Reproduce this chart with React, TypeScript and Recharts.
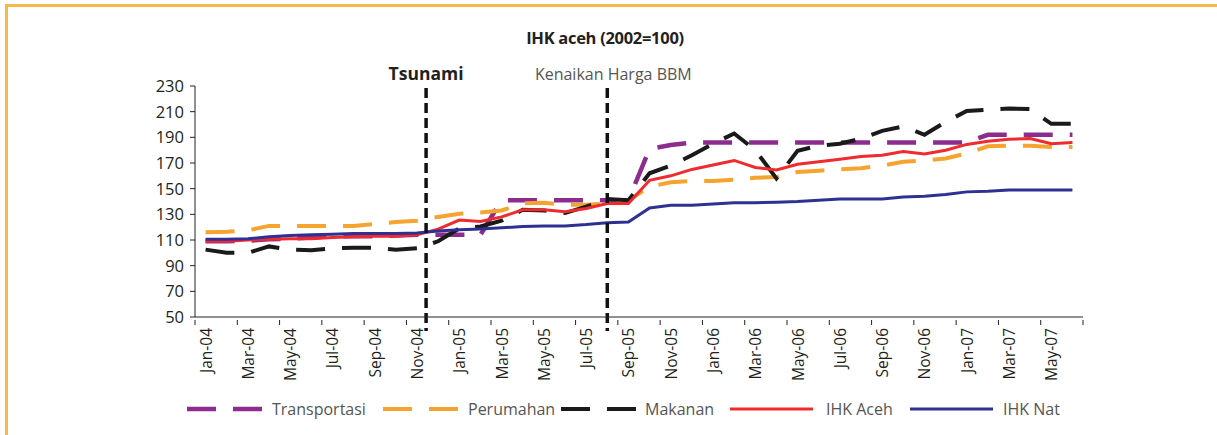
import { LineChart, Line, XAxis, YAxis, ReferenceLine, Legend } from 'recharts'

const months = [
  'Jan-04', 'Feb-04', 'Mar-04', 'Apr-04', 'May-04', 'Jun-04', 'Jul-04', 'Aug-04', 'Sep-04', 'Oct-04', 'Nov-04', 'Dec-04',
  'Jan-05', 'Feb-05', 'Mar-05', 'Apr-05', 'May-05', 'Jun-05', 'Jul-05', 'Aug-05', 'Sep-05', 'Oct-05', 'Nov-05', 'Dec-05',
  'Jan-06', 'Feb-06', 'Mar-06', 'Apr-06', 'May-06', 'Jun-06', 'Jul-06', 'Aug-06', 'Sep-06', 'Oct-06', 'Nov-06', 'Dec-06',
  'Jan-07', 'Feb-07', 'Mar-07', 'Apr-07', 'May-07', 'Jun-07',
]

const transportasi = [
  109, 109, 109.5, 110.5, 111, 112, 113, 113, 113, 113.5, 114, 114,
  114, 114, 141, 141, 141, 141, 141, 141, 141, 181, 184, 186,
  186, 186, 186, 186, 186, 186, 186, 186, 186, 186, 186, 186,
  186, 192, 192, 192, 192, 192,
]
const perumahan = [
  116, 116.5, 117.5, 121, 121, 121, 121, 121, 122.5, 124, 125, 128,
  130.5, 131.5, 133, 138.5, 139, 137.5, 137.5, 138.5, 141, 151.5, 155, 156,
  156, 157, 158.5, 159, 163, 164, 165, 166, 168, 171, 172, 173.5,
  177.5, 183, 183.5, 183.5, 182.5, 182.5,
]
const makanan = [
  102.5, 100, 100, 105, 102.5, 102, 103.5, 104, 104, 102.5, 103.5, 109,
  119, 120.5, 125, 133.5, 133, 131, 136, 142, 141, 162, 168, 176,
  185, 193, 180, 158, 179.5, 183.5, 185, 189, 195, 198.5, 192, 202,
  210.5, 211.5, 212.5, 212, 200.5, 200.5,
]
const ihkAceh = [
  109, 109, 110, 110.5, 111, 111, 112, 112.5, 113, 113, 114, 118.5,
  125.5, 124.5, 128, 133.5, 133.5, 132, 134.5, 138.5, 138.5, 156.5, 160, 165,
  168.5, 172, 166.5, 164.5, 169, 171, 173, 175, 176, 179, 177, 180,
  184.5, 187, 188.5, 189, 185, 186,
]
const ihkNat = [
  110.5, 110.5, 111, 112.5, 113.5, 114, 114.5, 115, 115, 115, 115.5, 117,
  118, 118.5, 119.5, 120.5, 121, 121, 122, 123.5, 124, 135, 137, 137,
  138, 139, 139, 139.5, 140, 141, 142, 142, 142, 143.5, 144, 145.5,
  147.5, 148, 149, 149, 149, 149,
]

const yTicks = [50, 70, 90, 110, 130, 150, 170, 190, 210, 230]
// tick marks sit between months, one every two months
const xBoundaries = Array.from({ length: 22 }, (_, k) => k * 2 - 0.5)

const series = [
  { key: 'transportasi', name: 'Transportasi', color: '#8B2C8E', width: 4.5, dash: '29 17' },
  { key: 'perumahan', name: 'Perumahan', color: '#F4A42F', width: 4, dash: '29 17' },
  { key: 'makanan', name: 'Makanan', color: '#1A1A1A', width: 4, dash: '29 17' },
  { key: 'ihkAceh', name: 'IHK Aceh', color: '#EE2B2E', width: 3, dash: undefined },
  { key: 'ihkNat', name: 'IHK Nat', color: '#2E3192', width: 3, dash: undefined },
]

const data = months.map((m, i) => ({
  idx: i,
  month: m,
  transportasi: transportasi[i],
  perumahan: perumahan[i],
  makanan: makanan[i],
  ihkAceh: ihkAceh[i],
  ihkNat: ihkNat[i],
}))

const W = 1217
const H = 435
const MARGIN = { top: 86, right: 134, left: 135, bottom: 10 }
const Y_AXIS_W = 60
const PLOT_W = W - MARGIN.left - MARGIN.right - Y_AXIS_W
const STEP = PLOT_W / months.length
const FONT = '"Open Sans", "Noto Sans", sans-serif'

function MonthTick(props: any) {
  const { x, y, payload } = props
  const labelIdx = payload.value + 0.5
  const label = months[labelIdx]
  return (
    <g>
      <line x1={x} x2={x} y1={y - 5} y2={y} stroke="#222" strokeWidth={1} />
      {label && (
        <text
          transform={`translate(${x + STEP / 2},${y + 3}) rotate(-90)`}
          textAnchor="end"
          dominantBaseline="central"
          fontSize={15.5}
          fontFamily={FONT}
          fill="#231F20"
        >
          {label}
        </text>
      )}
    </g>
  )
}

const legendSlots = [
  { lineX: 187, lineW: 75, textX: 272 },
  { lineX: 383, lineW: 75, textX: 468 },
  { lineX: 561, lineW: 75, textX: 645 },
  { lineX: 730, lineW: 83, textX: 826 },
  { lineX: 910, lineW: 83, textX: 1003 },
]

function LegendBox() {
  return (
    <div style={{ position: 'relative', width: W, height: 20 }}>
      {series.map((s, i) => {
        const slot = legendSlots[i]
        return (
          <div key={s.key}>
            <svg
              width={slot.lineW}
              height={20}
              style={{ position: 'absolute', left: slot.lineX, top: 0 }}
            >
              <line
                x1={0}
                x2={slot.lineW}
                y1={10}
                y2={10}
                stroke={s.color}
                strokeWidth={s.width}
                strokeDasharray={s.dash}
              />
            </svg>
            <span
              style={{
                position: 'absolute',
                left: slot.textX,
                top: 0,
                lineHeight: '20px',
                fontSize: 16,
                fontFamily: FONT,
                color: '#555',
                whiteSpace: 'nowrap',
              }}
            >
              {s.name}
            </span>
          </div>
        )
      })}
    </div>
  )
}

export default function App() {
  return (
    <div style={{ position: 'absolute', left: 0, top: 0, width: W, height: H, background: '#fff' }}>
      <div style={{ position: 'absolute', left: 5, top: 4, width: W - 5, height: 3, background: '#F5B84A' }} />
      <div style={{ position: 'absolute', left: 5, top: 4, width: 3, height: H - 4, background: '#F5B84A' }} />
      <div
        style={{
          position: 'absolute',
          left: 405,
          top: 26,
          width: 400,
          textAlign: 'center',
          fontFamily: FONT,
          fontWeight: 700,
          fontSize: 16.5,
          letterSpacing: -0.3,
          color: '#231F20',
        }}
      >
        IHK aceh (2002=100)
      </div>
      <LineChart width={W} height={H} data={data} margin={MARGIN}>
        <XAxis
          dataKey="idx"
          type="number"
          domain={[-0.5, 41.5]}
          ticks={xBoundaries}
          interval={0}
          height={88}
          axisLine={{ stroke: '#222' }}
          tickLine={false}
          tick={<MonthTick />}
        />
        <YAxis
          domain={[50, 230]}
          ticks={yTicks}
          width={Y_AXIS_W}
          interval={0}
          axisLine={{ stroke: '#222' }}
          tickLine={{ stroke: '#222' }}
          tickSize={5}
          tickMargin={6}
          tick={{ fontSize: 16.5, fontFamily: FONT, fill: '#231F20' }}
        />
        {series.map((s) => (
          <Line
            key={s.key}
            type="linear"
            dataKey={s.key}
            name={s.name}
            stroke={s.color}
            strokeWidth={s.width}
            strokeDasharray={s.dash}
            dot={false}
            activeDot={false}
            isAnimationActive={false}
          />
        ))}
        <ReferenceLine
          segment={[{ x: 10.43, y: 228.5 }, { x: 10.43, y: 39 }]}
          ifOverflow="visible"
          stroke="#111"
          strokeWidth={3.5}
          strokeDasharray="10 5"
          label={{
            value: 'Tsunami',
            position: 'top',
            offset: 8,
            fill: '#231F20',
            fontSize: 17.5,
            fontWeight: 700,
            fontFamily: FONT,
          }}
        />
        <ReferenceLine
          segment={[{ x: 19, y: 228.5 }, { x: 19, y: 39 }]}
          ifOverflow="visible"
          stroke="#111"
          strokeWidth={3.5}
          strokeDasharray="10 5"
          label={{
            value: 'Kenaikan Harga BBM',
            position: 'top',
            offset: 8,
            dx: 6,
            fill: '#555',
            fontSize: 16,
            fontFamily: FONT,
          }}
        />
        <Legend
          verticalAlign="bottom"
          content={() => <LegendBox />}
          wrapperStyle={{ left: 0, top: 399, width: W, height: 20 }}
        />
      </LineChart>
    </div>
  )
}
